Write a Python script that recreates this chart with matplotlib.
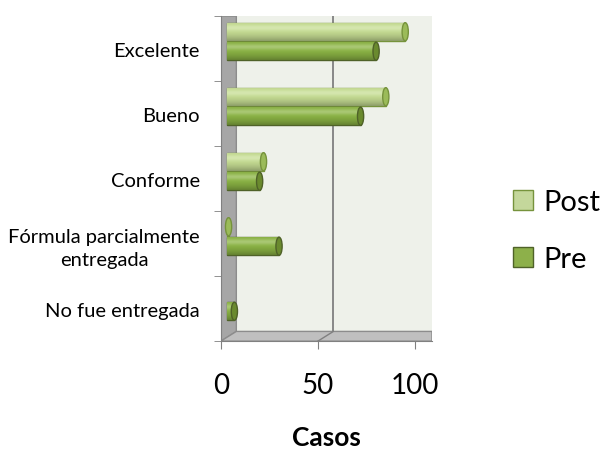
import numpy as np
import matplotlib.pyplot as plt
from matplotlib.patches import Polygon, Ellipse

categorias = ['Excelente', 'Bueno', 'Conforme', 'Fórmula parcialmente\nentregada', 'No fue entregada']
post = [92, 82, 19, 1, 0]
pre = [77, 69, 17, 27, 4]
ticks_x = [0, 50, 100]

plt.rcParams['font.family'] = ['Lato', 'DejaVu Sans']

fig = plt.figure(figsize=(6, 4.52), dpi=100)
ax = fig.add_axes([0.368, 0.243, 0.352, 0.719])

y = np.arange(len(categorias))
h = 0.28
b_post = ax.barh(y - 0.26, post, height=h, left=3, color='#C4D79B', edgecolor='#76933C',
                 linewidth=1.0, label='Post', zorder=3)
b_pre = ax.barh(y + 0.04, pre, height=h, left=3, color='#8DB04A', edgecolor='#4F6228',
                linewidth=1.0, label='Pre', zorder=3)

# sombreado tipo cilindro
t = np.linspace(0, 1, 64).reshape(-1, 1, 1)
shade = np.clip(1.0 - 0.6 * (t - 0.3) ** 2, 0, 1)
brillo = 0.25 * np.exp(-((t - 0.3) / 0.15) ** 2)
colores = [(b_post, np.array([0.78, 0.87, 0.58]), '#9BBB59'),
           (b_pre, np.array([0.55, 0.71, 0.27]), '#6A8A2E')]
for bars, base, tapa in colores:
    for r in bars:
        if r.get_width() <= 0:
            r.set_visible(False)
            continue
        x0, y0 = r.get_x(), r.get_y()
        img = base[None, None, :] * shade
        img = np.clip(img + brillo * (1 - img), 0, 1)
        img = np.repeat(img, 2, axis=1)
        im = ax.imshow(img, extent=[x0, x0 + r.get_width(), y0 + r.get_height(), y0],
                       aspect='auto', zorder=3.5)
        im.set_clip_path(r)
        ax.add_patch(Ellipse((x0 + r.get_width(), y0 + r.get_height() / 2), 3.2, r.get_height(),
                             facecolor=tapa, edgecolor=r.get_edgecolor(), linewidth=1.0, zorder=4))

ax.set_xlim(0, 108.8)
ax.set_ylim(len(categorias) - 0.5, -0.5)
ax.set_facecolor('#EEF1EA')

# paredes estilo 3D
ax.add_patch(Polygon([[0, 4.5], [8, 4.35], [8, -0.5], [0, -0.5]], closed=True,
                     facecolor='#A6A6A6', edgecolor='#8C8C8C', zorder=1))
ax.add_patch(Polygon([[0, 4.5], [8, 4.35], [108.8, 4.35], [108.8, 4.5]], closed=True,
                     facecolor='#BFBFBF', edgecolor='#8C8C8C', zorder=1))
ax.plot([58, 58], [-0.5, 4.35], color='#808080', linewidth=1.3, zorder=2)
ax.plot([50, 58], [4.5, 4.35], color='#808080', linewidth=1, zorder=2)

for s in ['top', 'right']:
    ax.spines[s].set_visible(False)
ax.spines['left'].set_color('#808080')
ax.spines['bottom'].set_color('#808080')

ax.set_yticks(y)
ax.set_yticklabels(categorias, fontsize=14.5, linespacing=1.45)
ax.set_yticks(np.arange(len(categorias) + 1) - 0.5, minor=True)
ax.tick_params(axis='y', which='major', length=0, pad=15)
ax.tick_params(axis='y', which='minor', length=5, color='#808080', direction='out')
for lbl in ax.get_yticklabels():
    lbl.set_multialignment('center')
ax.set_xticks(ticks_x)
ax.set_xticklabels([str(t) for t in ticks_x], fontsize=20)
ax.tick_params(axis='x', length=6, color='#808080', pad=16)
ax.set_xlabel('Casos', fontsize=19, fontweight='bold', labelpad=20)

ax.legend(loc='center left', bbox_to_anchor=(1.30, 0.34), frameon=False, fontsize=21,
          handlelength=0.7, handleheight=0.7, labelspacing=1.05, handletextpad=0.35,
          borderaxespad=0.2)

fig.savefig('out.png', dpi=100)
